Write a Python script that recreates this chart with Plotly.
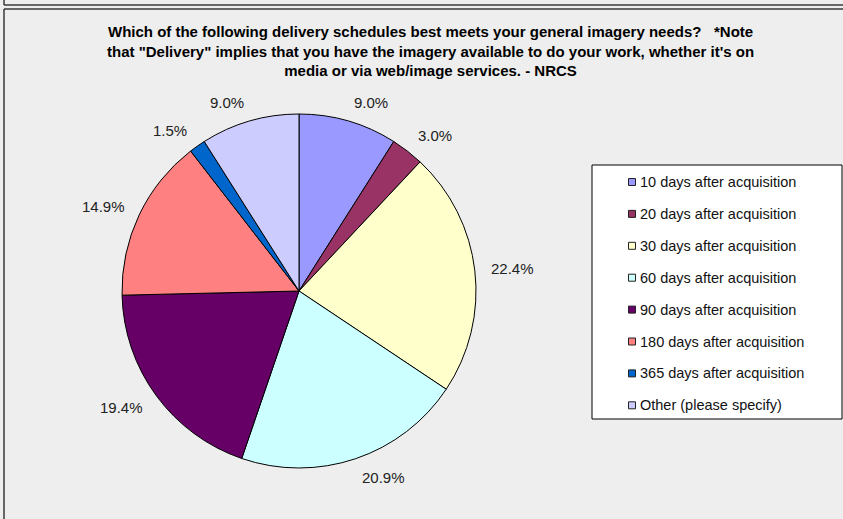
import math
import plotly.graph_objects as go

# ---- data ----
categories = [
    "10 days after acquisition",
    "20 days after acquisition",
    "30 days after acquisition",
    "60 days after acquisition",
    "90 days after acquisition",
    "180 days after acquisition",
    "365 days after acquisition",
    "Other (please specify)",
]
percent_values = [9.0, 3.0, 22.4, 20.9, 19.4, 14.9, 1.5, 9.0]
slice_colors = ["#9999FF", "#993366", "#FFFFCC", "#CCFFFF",
                "#660066", "#FF8080", "#0066CC", "#CCCCFF"]
title_text = ("Which of the following delivery schedules best meets your general imagery needs?   *Note<br>"
              "that \"Delivery\" implies that you have the imagery available to do your work, whether it's on<br>"
              "media or via web/image services. - NRCS")

# ---- layout geometry (pixels) ----
W, H = 843, 519
CX, CY, R = 299, 291, 177
LABEL_R = 191
FONT = "Arial, Liberation Sans, sans-serif"

def px(x):
    return x / W

def py(y):
    return 1 - y / H

fig = go.Figure()
fig.add_trace(go.Pie(
    labels=categories,
    values=percent_values,
    marker=dict(colors=slice_colors, line=dict(color="#000000", width=1)),
    sort=False,
    direction="clockwise",
    rotation=0,
    textinfo="none",
    hoverinfo="label+percent",
    showlegend=False,
    domain=dict(x=[px(CX - R), px(CX + R)], y=[py(CY + R), py(CY - R)]),
))

annotations = []
shapes = []

# data labels computed from the values
total = sum(percent_values)
cum = 0.0
for v in percent_values:
    mid = (cum + v / 2) / total * 2 * math.pi
    cum += v
    s, c = math.sin(mid), math.cos(mid)
    x = CX + LABEL_R * s
    y = CY - LABEL_R * c
    xa = "left" if s >= 0 else "right"
    annotations.append(dict(
        x=px(x), y=py(y), xref="paper", yref="paper",
        text=f"{v:.1f}%", showarrow=False, xanchor=xa, yanchor="middle",
        yshift=5.5 * c,
        font=dict(family=FONT, size=15, color="#222222"),
    ))

# title
annotations.append(dict(
    x=px(430), y=py(21), xref="paper", yref="paper", text="<b>" + title_text + "</b>",
    showarrow=False, xanchor="center", yanchor="top", align="center",
    font=dict(family=FONT, size=15, color="#000000"),
))

# frame lines
line_style = dict(color="#3a3a3a", width=1.5)
shapes.append(dict(type="line", xref="paper", yref="paper", x0=px(4), x1=1.0, y0=py(5), y1=py(5), line=line_style))
shapes.append(dict(type="line", xref="paper", yref="paper", x0=px(4), x1=1.0, y0=py(9), y1=py(9), line=line_style))
shapes.append(dict(type="line", xref="paper", yref="paper", x0=px(4), x1=px(4), y0=py(0), y1=py(5), line=line_style))
shapes.append(dict(type="line", xref="paper", yref="paper", x0=px(4), x1=px(4), y0=py(9), y1=py(H), line=line_style))

# legend box
LX0, LX1, LY0, LY1 = 592, 842, 165, 419
shapes.append(dict(type="rect", xref="paper", yref="paper", x0=px(LX0), x1=px(LX1), y0=py(LY1), y1=py(LY0),
                   line=dict(color="#000000", width=1), fillcolor="#FFFFFF"))
ITEM_Y0, ITEM_STEP = 182, 31.9
for i, (cat, col) in enumerate(zip(categories, slice_colors)):
    yc = ITEM_Y0 + i * ITEM_STEP
    shapes.append(dict(type="rect", xref="paper", yref="paper", x0=px(628.5), x1=px(635.5),
                       y0=py(yc + 3.5), y1=py(yc - 3.5), fillcolor=col,
                       line=dict(color="#222222", width=1)))
    annotations.append(dict(
        x=px(638), y=py(yc), xref="paper", yref="paper", text=cat, showarrow=False,
        xanchor="left", yanchor="middle",
        font=dict(family=FONT, size=14.5, color="#111111"),
    ))

fig.update_layout(
    width=W, height=H, autosize=False,
    margin=dict(l=0, r=0, t=0, b=0),
    paper_bgcolor="#EEEEEE", plot_bgcolor="#EEEEEE",
    annotations=annotations, shapes=shapes,
    showlegend=False,
)

fig.write_html("out.html", config={"displayModeBar": False},
               post_script="document.body.style.margin='0px';document.body.style.overflow='hidden';")
